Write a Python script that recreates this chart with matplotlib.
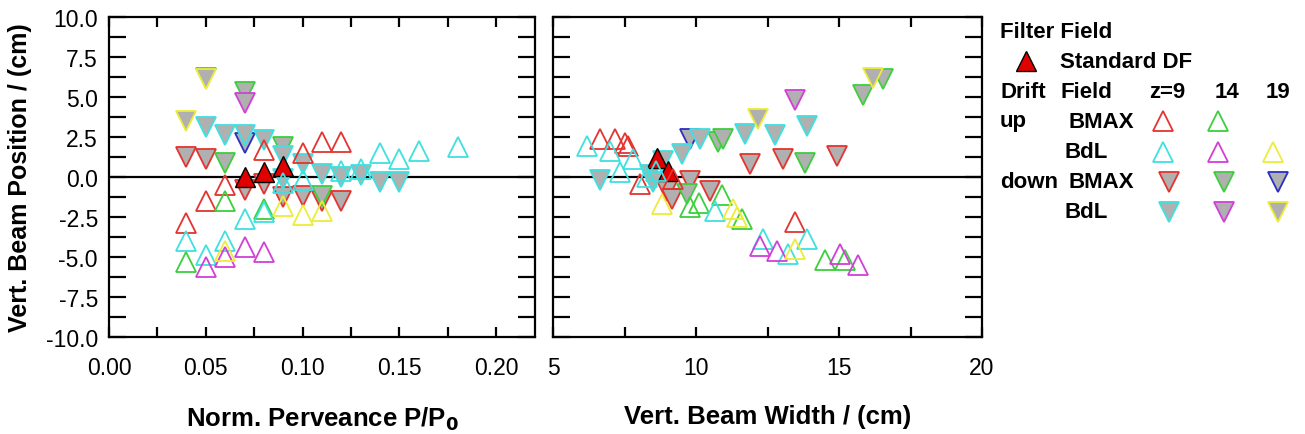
import matplotlib
matplotlib.use('Agg')
import matplotlib.pyplot as plt
from matplotlib.ticker import MultipleLocator, FormatStrFormatter

plt.rcParams['font.family'] = ['Liberation Sans', 'DejaVu Sans']

# ---- data ----
# up, BMAX, z=9
perv_up_bmax9 = [0.04, 0.05, 0.06, 0.08, 0.10, 0.11, 0.12]
posp_up_bmax9 = [-2.9, -1.5, -0.5, 1.7, 1.5, 2.2, 2.2]
width_up_bmax9 = [6.64, 7.17, 7.5, 7.63, 8.04, 9.2, 13.46]
posw_up_bmax9 = [2.4, 2.4, 2.1, 1.95, -0.44, -0.1, -2.8]
# up, BMAX, z=14
perv_up_bmax14 = [0.04, 0.06, 0.08]
posp_up_bmax14 = [-5.3, -1.5, -2.0]
width_up_bmax14 = [9.8, 10.1, 10.9, 11.6, 14.51, 15.2]
posw_up_bmax14 = [-1.9, -1.6, -1.1, -2.6, -5.2, -5.2]
# up, BdL, z=9
perv_up_bdl9 = [0.04, 0.05, 0.06, 0.07, 0.08, 0.09, 0.10, 0.12, 0.13, 0.14, 0.15, 0.16, 0.18]
posp_up_bdl9 = [-4.0, -4.9, -4.0, -2.6, -2.2, -0.4, -0.2, 0.4, 0.5, 1.5, 1.1, 1.6, 1.85]
width_up_bdl9 = [6.2, 7.0, 7.34, 7.8, 8.3, 8.6, 10.66, 12.35, 13.23, 13.87]
posw_up_bdl9 = [1.95, 1.6, 0.3, 1.1, 0.0, 0.4, -2.1, -3.9, -4.8, -3.9]
# up, BdL, z=14
perv_up_bdl14 = [0.05, 0.06, 0.07, 0.08]
posp_up_bdl14 = [-5.6, -5.0, -4.4, -4.7]
width_up_bdl14 = [12.24, 12.82, 15.03, 15.67]
posw_up_bdl14 = [-4.3, -4.6, -4.8, -5.5]
# up, BdL, z=19
perv_up_bdl19 = [0.06, 0.09, 0.10, 0.11]
posp_up_bdl19 = [-4.6, -1.8, -2.4, -2.1]
width_up_bdl19 = [8.8, 11.3, 11.45, 13.46]
posw_up_bdl19 = [-1.7, -2.0, -2.5, -4.5]
# down, BMAX, z=9
perv_dn_bmax9 = [0.04, 0.05, 0.07, 0.08, 0.09, 0.10, 0.11, 0.12]
posp_dn_bmax9 = [1.25, 1.1, -0.8, -0.45, -1.25, -1.2, -1.5, -1.5]
width_dn_bmax9 = [9.0, 9.15, 9.8, 10.49, 11.89, 13.05, 14.92]
posw_dn_bmax9 = [-0.9, -1.4, -0.25, -0.85, 0.8, 1.1, 1.3]
# down, BMAX, z=14
perv_dn_bmax14 = [0.05, 0.06, 0.07, 0.09, 0.11]
posp_dn_bmax14 = [6.2, 0.9, 5.3, 1.9, -1.2]
width_dn_bmax14 = [9.67, 10.78, 10.95, 13.81, 15.85, 16.55]
posw_dn_bmax14 = [-1.06, 2.17, 2.4, 0.9, 5.1, 6.1]
# down, BMAX, z=19
perv_dn_bmax19 = [0.07]
posp_dn_bmax19 = [2.1]
width_dn_bmax19 = [9.8]
posw_dn_bmax19 = [2.4]
# down, BdL, z=9
perv_dn_bdl9 = [0.05, 0.06, 0.07, 0.08, 0.09, 0.09, 0.10, 0.11, 0.12, 0.13, 0.14, 0.15]
posp_dn_bdl9 = [3.1, 2.6, 2.6, 2.3, 1.3, -0.1, 0.8, 0.2, 0.0, 0.1, -0.3, -0.3]
width_dn_bdl9 = [6.64, 8.4, 8.5, 8.85, 9.5, 10.14, 11.71, 12.76, 13.87]
posw_dn_bdl9 = [-0.2, 0.1, -0.3, 1.0, 1.44, 2.4, 2.7, 2.6, 3.2]
# down, BdL, z=14
perv_dn_bdl14 = [0.07]
posp_dn_bdl14 = [4.6]
width_dn_bdl14 = [13.46]
posw_dn_bdl14 = [4.8]
# down, BdL, z=19
perv_dn_bdl19 = [0.04, 0.05]
posp_dn_bdl19 = [3.5, 6.1]
width_dn_bdl19 = [12.18, 16.2]
posw_dn_bdl19 = [3.6, 6.2]
# standard drift field
perv_std = [0.07, 0.08, 0.09]
posp_std = [0.0, 0.3, 0.7]
width_std = [8.63, 9.03]
posw_std = [1.2, 0.4]

RED = '#e3342f'
GREEN = '#3ccf3c'
CYAN = '#3fe0e0'
MAGENTA = '#d23fd8'
YELLOW = '#ecec3a'
BLUE = '#2b2fc0'
GRAY = '#b0b0b0'
MS = 15
MEW = 1.3

down_series = [
    (perv_dn_bmax9, posp_dn_bmax9, width_dn_bmax9, posw_dn_bmax9, RED),
    (perv_dn_bmax14, posp_dn_bmax14, width_dn_bmax14, posw_dn_bmax14, GREEN),
    (perv_dn_bmax19, posp_dn_bmax19, width_dn_bmax19, posw_dn_bmax19, BLUE),
    (perv_dn_bdl9, posp_dn_bdl9, width_dn_bdl9, posw_dn_bdl9, CYAN),
    (perv_dn_bdl14, posp_dn_bdl14, width_dn_bdl14, posw_dn_bdl14, MAGENTA),
    (perv_dn_bdl19, posp_dn_bdl19, width_dn_bdl19, posw_dn_bdl19, YELLOW),
]
up_series = [
    (perv_up_bmax9, posp_up_bmax9, width_up_bmax9, posw_up_bmax9, RED),
    (perv_up_bmax14, posp_up_bmax14, width_up_bmax14, posw_up_bmax14, GREEN),
    (perv_up_bdl9, posp_up_bdl9, width_up_bdl9, posw_up_bdl9, CYAN),
    (perv_up_bdl14, posp_up_bdl14, width_up_bdl14, posw_up_bdl14, MAGENTA),
    (perv_up_bdl19, posp_up_bdl19, width_up_bdl19, posw_up_bdl19, YELLOW),
]

fig = plt.figure(figsize=(13.05, 4.35), dpi=100)
ax1 = fig.add_axes([109 / 1305, 1 - 338 / 435, 426 / 1305, 320 / 435])
ax2 = fig.add_axes([553 / 1305, 1 - 338 / 435, 429 / 1305, 320 / 435])

for ax, ix, iy in ((ax1, 0, 1), (ax2, 2, 3)):
    ax.axhline(0, color='black', lw=1.6, zorder=1)
    for s in down_series:
        ax.plot(s[ix], s[iy], ls='none', marker='v', ms=MS, mfc=GRAY,
                mec=s[4], mew=MEW, zorder=2)
    for s in up_series:
        ax.plot(s[ix], s[iy], ls='none', marker='^', ms=MS, mfc='none',
                mec=s[4], mew=MEW, zorder=3)

# standard DF between the filled and the open markers
ax1.plot(perv_std, posp_std, ls='none', marker='^', ms=MS, mfc='#e00000',
         mec='black', mew=1.0, zorder=2.5)
ax2.plot(width_std, posw_std, ls='none', marker='^', ms=MS, mfc='#e00000',
         mec='black', mew=1.0, zorder=2.5)

ax1.set_xlim(0, 0.22)
ax1.xaxis.set_major_locator(MultipleLocator(0.05))
ax1.xaxis.set_minor_locator(MultipleLocator(0.025))
ax1.xaxis.set_major_formatter(FormatStrFormatter('%.2f'))
ax2.set_xlim(5, 20)
ax2.xaxis.set_major_locator(MultipleLocator(5))
ax2.xaxis.set_minor_locator(MultipleLocator(2.5))

for ax in (ax1, ax2):
    ax.set_ylim(-10, 10)
    ax.yaxis.set_major_locator(MultipleLocator(2.5))
    ax.yaxis.set_minor_locator(MultipleLocator(1.25))
    ax.yaxis.set_major_formatter(FormatStrFormatter('%.1f'))
    for sp in ax.spines.values():
        sp.set_linewidth(1.6)
    ax.tick_params(which='both', direction='in', top=True, right=True,
                   width=1.6, labelsize=16.5)
    ax.tick_params(axis='x', which='both', length=7, pad=14)
    ax.tick_params(axis='y', which='both', length=12, pad=8)

ax2.tick_params(axis='y', labelleft=False)

ax1.set_xlabel('Norm. Perveance P/P$_\\mathbf{0}$', fontsize=18.5,
               fontweight='bold', labelpad=18)
ax2.set_xlabel('Vert. Beam Width / (cm)', fontsize=18.5, fontweight='bold',
               labelpad=18)
ax1.set_ylabel('Vert. Beam Position / (cm)', fontsize=18, fontweight='bold',
               labelpad=10)

# ---- legend block drawn by hand ----
lax = fig.add_axes([0, 0, 1, 1])
lax.set_xlim(0, 1305)
lax.set_ylim(435, 0)
lax.axis('off')
lax.patch.set_alpha(0)

FS = 16
tkw = dict(fontsize=FS, fontweight='bold', va='center')
lax.text(1000, 32, 'Filter Field', ha='left', **tkw)
lax.plot([1026], [62], marker='^', ms=14, mfc='#e00000', mec='black', mew=1.0)
lax.text(1060, 62, 'Standard DF', ha='left', **tkw)
lax.text(1000, 92, 'Drift', ha='left', **tkw)
lax.text(1061, 92, 'Field', ha='left', **tkw)
lax.text(1167, 92, 'z=9', ha='center', **tkw)
lax.text(1227, 92, '14', ha='center', **tkw)
lax.text(1278, 92, '19', ha='center', **tkw)
lax.text(1000, 122, 'up', ha='left', **tkw)
lax.text(1068, 122, 'BMAX', ha='left', **tkw)
lax.text(1065, 153, 'BdL', ha='left', **tkw)
lax.text(1000, 183, 'down', ha='left', **tkw)
lax.text(1068, 183, 'BMAX', ha='left', **tkw)
lax.text(1065, 213, 'BdL', ha='left', **tkw)

up_cols = [1163, 1218, 1273]
dn_cols = [1169, 1224, 1278]
for x, c in zip(up_cols[:2], [RED, GREEN]):
    lax.plot([x], [122], marker='^', ms=14, mfc='none', mec=c, mew=MEW)
for x, c in zip(up_cols, [CYAN, MAGENTA, YELLOW]):
    lax.plot([x], [153], marker='^', ms=14, mfc='none', mec=c, mew=MEW)
for x, c in zip(dn_cols, [RED, GREEN, BLUE]):
    lax.plot([x], [183], marker='v', ms=14, mfc=GRAY, mec=c, mew=MEW)
for x, c in zip(dn_cols, [CYAN, MAGENTA, YELLOW]):
    lax.plot([x], [213], marker='v', ms=14, mfc=GRAY, mec=c, mew=MEW)

fig.savefig('out.png', dpi=100)
